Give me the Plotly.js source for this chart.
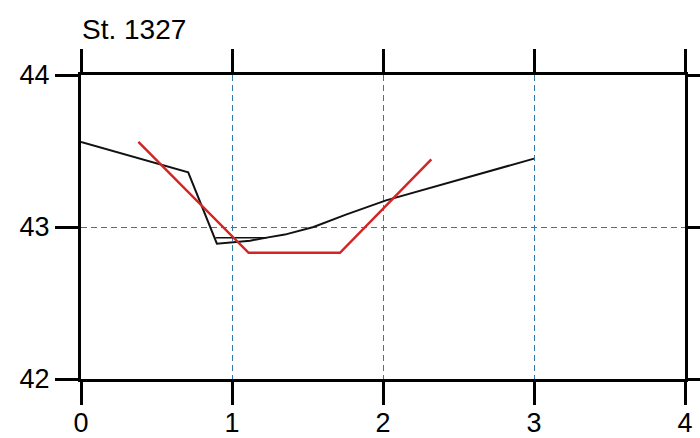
<!DOCTYPE html>
<html>
<head>
<meta charset="utf-8">
<script src="https://cdn.plot.ly/plotly-3.0.1.min.js"></script>
<style>html,body{margin:0;padding:0;background:#fff;}#chart{width:700px;height:438px;}</style>
</head>
<body>
<div id="chart"></div>
<script>
// Black profile (main)
const blackX = [0, 0.71, 0.90, 1.12, 1.23, 1.35, 1.54, 1.75, 2.02, 2.5, 3.0];
const blackY = [43.56, 43.36, 42.89, 42.91, 42.93, 42.95, 43.0, 43.08, 43.175, 43.31, 43.45];
// Black profile (short inner segment)
const black2X = [0.89, 1.12, 1.23];
const black2Y = [42.93, 42.93, 42.93];
// Red profile
const redX = [0.38, 1.11, 1.715, 2.32];
const redY = [43.56, 42.83, 42.83, 43.445];

const xTicks = [0, 1, 2, 3, 4];
const yTicks = [42, 43, 44];
const titleText = 'St. 1327';

const font = {family: '"Liberation Sans", Arial, sans-serif', color: '#000'};

const traces = [
  {x: blackX, y: blackY, mode: 'lines', line: {color: '#111', width: 2}, hoverinfo: 'skip'},
  {x: black2X, y: black2Y, mode: 'lines', line: {color: '#111', width: 1.5}, hoverinfo: 'skip'},
  {x: redX, y: redY, mode: 'lines', line: {color: '#d42424', width: 2.5}, hoverinfo: 'skip'}
];

const axisCommon = {
  showline: true, linecolor: '#000', linewidth: 3,
  mirror: 'ticks', ticks: 'outside', ticklen: 23, tickwidth: 3, tickcolor: '#000',
  showgrid: true, gridcolor: '#2f78b0', gridwidth: 1, griddash: '6px,4px',
  zeroline: false, tickfont: Object.assign({size: 27}, font)
};

const layout = {
  width: 700, height: 438,
  margin: {l: 81, r: 15, t: 75, b: 59},
  paper_bgcolor: '#fff', plot_bgcolor: '#fff',
  showlegend: false,
  title: {text: titleText, font: Object.assign({size: 28}, font), x: 82/700, xanchor: 'left', y: 1 - 29/438, yanchor: 'middle'},
  xaxis: Object.assign({range: [0, 4], tickvals: xTicks, ticktext: xTicks.map(String), ticklabelstandoff: -5}, axisCommon),
  yaxis: Object.assign({range: [42, 44], tickvals: yTicks, ticktext: yTicks.map(String)}, axisCommon)
};

Plotly.newPlot('chart', traces, layout, {displayModeBar: false, staticPlot: true});
</script>
</body>
</html>
